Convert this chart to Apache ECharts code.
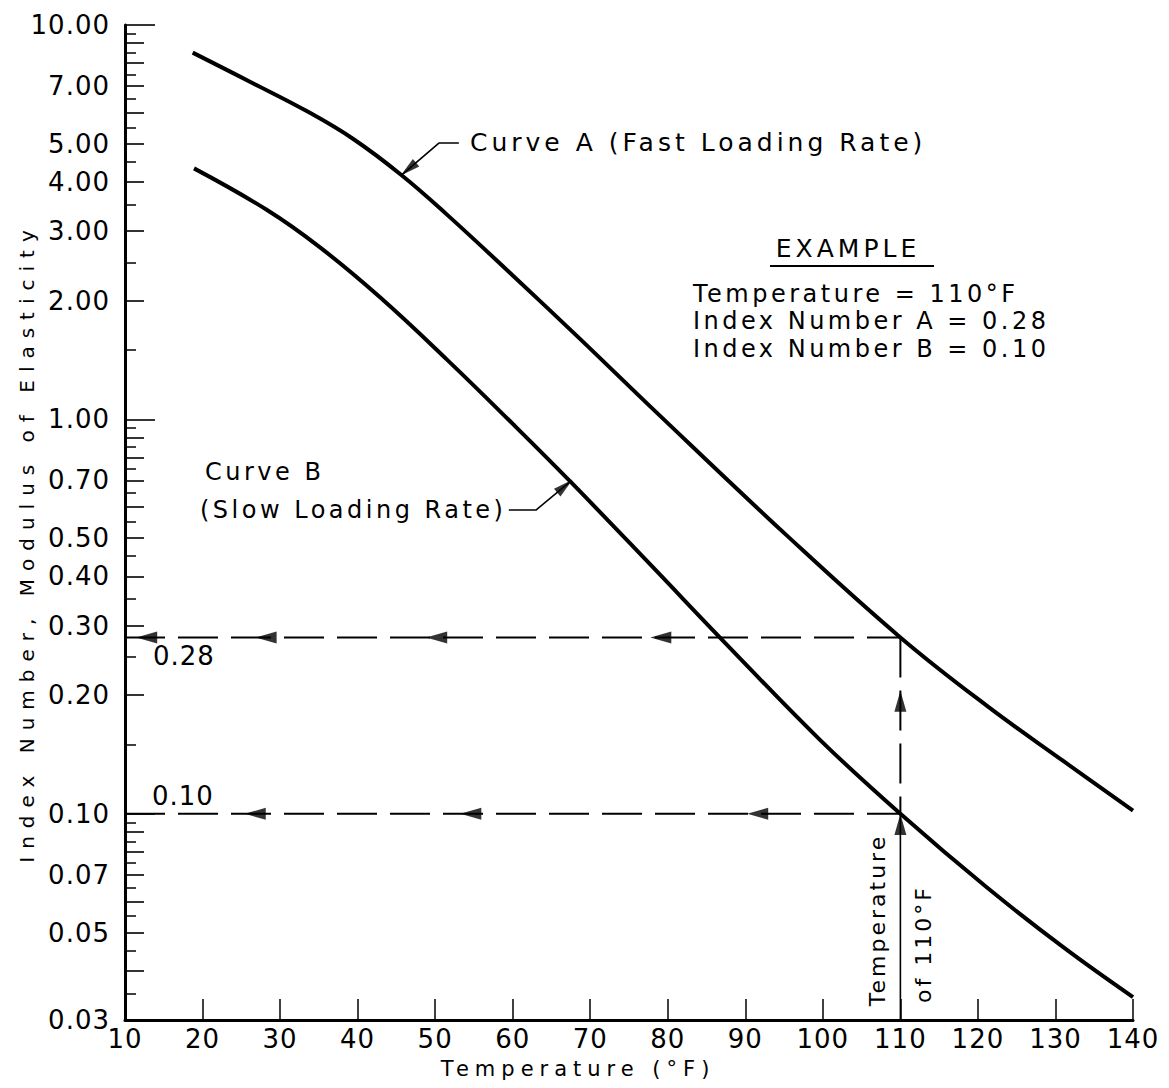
<!DOCTYPE html>
<html>
<head>
<meta charset="utf-8">
<script src="https://cdn.jsdelivr.net/npm/echarts@6/dist/echarts.min.js"></script>
<style>
html, body { margin: 0; padding: 0; background: #fff; }
#chart { width: 1169px; height: 1088px; }
#chart text[style*="26px"] { letter-spacing: 1px; }
#chart text[style*="25px"] { letter-spacing: 4px; }
#chart text[style*="24px"] { letter-spacing: 3.5px; }
#chart text[style*="22px"] { letter-spacing: 3px; }
#chart text[style*="21px"] { letter-spacing: 6px; }
#chart text[style*="20px"] { letter-spacing: 8px; }
</style>
</head>
<body>
<div id="chart"></div>
<script>
// ---- data ----
const tempA  = [18.73, 26.55, 33.43, 39.44, 45.68, 51.49, 60.08, 68.68, 78.57, 95.34, 110, 121.13, 131.0, 140];
const indexA = [8.51, 7.11, 6.05, 5.14, 4.16, 3.31, 2.31, 1.60, 1.04, 0.508, 0.28, 0.188, 0.1361, 0.1018];
const tempB  = [18.9, 28.27, 35.15, 42.89, 51.49, 60.08, 67.61, 78.17, 86.95, 99.63, 110, 121.13, 131.0, 140];
const indexB = [4.33, 3.40, 2.73, 2.04, 1.42, 0.971, 0.690, 0.420, 0.277, 0.154, 0.10, 0.0651, 0.0459, 0.0343];

const tempMin = 10, tempMax = 140, tempStep = 10;
const indexMin = 0.03, indexMax = 10;

const yLabelValues = [10, 7, 5, 4, 3, 2, 1, 0.7, 0.5, 0.4, 0.3, 0.2, 0.1, 0.07, 0.05, 0.03];
const yDecadeTicks = [10, 1, 0.1];
const yUnitTicks = [9, 8, 7, 6, 5, 4, 3, 2, 0.9, 0.8, 0.7, 0.6, 0.5, 0.4, 0.3, 0.2,
                    0.09, 0.08, 0.07, 0.06, 0.05, 0.04, 0.03];
const yHalfTicks = [9.5, 8.5, 7.5, 6.5, 5.5, 4.5, 3.5, 2.5, 1.5,
                    0.95, 0.85, 0.75, 0.65, 0.55, 0.45, 0.35, 0.25, 0.15,
                    0.095, 0.085, 0.075, 0.065, 0.055, 0.045, 0.035];

// worked example
const exampleTemp = 110;
const exampleIndexA = 0.28;
const exampleIndexB = 0.10;
const arrowsOnA = [12.8, 28.2, 50.2, 79.1];   // arrow centres (°F) on the 0.28 guide
const arrowsOnB = [26.8, 54.6, 91.6];         // arrow centres (°F) on the 0.10 guide
const arrowsUp  = [0.193, 0.094];             // arrow centres (index) on the 110 °F guide

// label leaders
const leaderA = [[53.06, 5.02], [50.48, 5.02], [45.66, 4.16]];
const leaderB = [[59.5, 0.589], [63.0, 0.589], [67.61, 0.700]];
const leaderArrowA = [46.55, 4.31];
const leaderArrowB = [66.73, 0.677];

// ---- chart ----
const FONT = 'DejaVu Sans';
const pairs = (xs, ys) => xs.map((x, i) => [x, ys[i]]);
const chart = echarts.init(document.getElementById('chart'), null, { renderer: 'svg', width: 1169, height: 1088 });

const logAxisBase = {
  type: 'log', logBase: 10, min: indexMin, max: indexMax, position: 'left',
  splitLine: { show: false }, minorTick: { show: false }, minorSplitLine: { show: false }
};

const guideStyle = { color: '#000', width: 2, type: [40, 13] };

const arrowData = []
  .concat(arrowsOnA.map(t => ({ value: [t, exampleIndexA], symbolRotate: 90 })))
  .concat(arrowsOnB.map(t => ({ value: [t, exampleIndexB], symbolRotate: 90 })))
  .concat(arrowsUp.map(v => ({ value: [exampleTemp, v], symbolRotate: 0 })));

const option = {
  animation: false,
  backgroundColor: '#fff',
  grid: { left: 125, right: 36, top: 25, bottom: 68, outerBoundsMode: 'none', containLabel: false },
  xAxis: {
    type: 'value', min: tempMin, max: tempMax, interval: tempStep,
    name: 'Temperature (°F)', nameLocation: 'middle', nameGap: 38, nameMoveOverlap: false,
    nameTextStyle: { fontFamily: FONT, fontSize: 21, color: '#000', padding: [0, 102, 0, 0] },
    axisLine: { onZero: false, lineStyle: { color: '#000', width: 3 } },
    axisTick: { inside: true, length: 21, lineStyle: { color: '#000', width: 1.5 } },
    axisLabel: { fontFamily: FONT, fontSize: 26, color: '#000', margin: 6 },
    splitLine: { show: false }
  },
  yAxis: [
    Object.assign({}, logAxisBase, {
      name: 'Index Number, Modulus of Elasticity', nameLocation: 'middle', nameRotate: 90, nameGap: 88,
      nameMoveOverlap: false,
      nameTextStyle: { fontFamily: FONT, fontSize: 20, color: '#000', padding: [0, 40, 0, 0] },
      axisLine: { show: true, lineStyle: { color: '#000', width: 3 } },
      axisTick: { show: true, inside: true, length: 19, customValues: yUnitTicks, lineStyle: { color: '#000', width: 1.6 } },
      axisLabel: { show: true, customValues: yLabelValues, formatter: v => Number(v).toFixed(2),
                   fontFamily: FONT, fontSize: 26, color: '#000', margin: 15 }
    }),
    Object.assign({}, logAxisBase, {
      axisLine: { show: false }, axisLabel: { show: false },
      axisTick: { show: true, inside: true, length: 30, customValues: yDecadeTicks, lineStyle: { color: '#000', width: 1.6 } }
    }),
    Object.assign({}, logAxisBase, {
      axisLine: { show: false }, axisLabel: { show: false },
      axisTick: { show: true, inside: true, length: 11, customValues: yHalfTicks, lineStyle: { color: '#000', width: 1.5 } }
    })
  ],
  series: [
    { name: 'Curve A (Fast Loading Rate)', type: 'line', data: pairs(tempA, indexA), smooth: 0.4,
      symbol: 'none', lineStyle: { color: '#000', width: 4 }, z: 5 },
    { name: 'Curve B (Slow Loading Rate)', type: 'line', data: pairs(tempB, indexB), smooth: 0.4,
      symbol: 'none', lineStyle: { color: '#000', width: 4 }, z: 5 },
    { name: 'Index A guide', type: 'line', data: [[tempMin, exampleIndexA], [exampleTemp, exampleIndexA]],
      symbol: 'none', lineStyle: guideStyle, z: 3 },
    { name: 'Index B guide', type: 'line', data: [[tempMin, exampleIndexB], [exampleTemp, exampleIndexB]],
      symbol: 'none', lineStyle: guideStyle, z: 3 },
    { name: 'Temperature guide', type: 'line', data: [[exampleTemp, exampleIndexA], [exampleTemp, exampleIndexB]],
      symbol: 'none', lineStyle: guideStyle, z: 3 },
    { name: 'Temperature guide lower', type: 'line', data: [[exampleTemp, exampleIndexB], [exampleTemp, indexMin]],
      symbol: 'none', lineStyle: { color: '#000', width: 1.6 }, z: 3 },
    { name: 'Leader A', type: 'line', data: leaderA, symbol: 'none', lineStyle: { color: '#000', width: 1.6 }, z: 3 },
    { name: 'Leader B', type: 'line', data: leaderB, symbol: 'none', lineStyle: { color: '#000', width: 1.6 }, z: 3 },
    { name: 'Arrows', type: 'scatter', symbol: 'triangle', symbolSize: [12, 21],
      itemStyle: { color: '#000' }, z: 6,
      data: arrowData.concat([
        { value: leaderArrowA, symbolRotate: 130, symbolSize: [10, 20] },
        { value: leaderArrowB, symbolRotate: -50, symbolSize: [10, 20] }
      ]) }
  ],
  graphic: [
    { type: 'text', x: 470, y: 142.5, style: { text: 'Curve A (Fast Loading Rate)', font: '25px DejaVu Sans', fill: '#000', align: 'left', verticalAlign: 'middle' } },
    { type: 'text', x: 205, y: 472, style: { text: 'Curve B', font: '24px DejaVu Sans', fill: '#000', align: 'left', verticalAlign: 'middle' } },
    { type: 'text', x: 200, y: 510, style: { text: '(Slow Loading Rate)', font: '24px DejaVu Sans', fill: '#000', align: 'left', verticalAlign: 'middle' } },
    { type: 'text', x: 848, y: 248, style: { text: 'EXAMPLE', font: '25px DejaVu Sans', fill: '#000', align: 'center', verticalAlign: 'middle' } },
    { type: 'line', shape: { x1: 770, y1: 266, x2: 934, y2: 266 }, style: { stroke: '#000', lineWidth: 2 } },
    { type: 'text', x: 693, y: 293.5, style: { text: 'Temperature = 110°F', font: '24px DejaVu Sans', fill: '#000', align: 'left', verticalAlign: 'middle' } },
    { type: 'text', x: 693, y: 321, style: { text: 'Index Number A = 0.28', font: '24px DejaVu Sans', fill: '#000', align: 'left', verticalAlign: 'middle' } },
    { type: 'text', x: 693, y: 349, style: { text: 'Index Number B = 0.10', font: '24px DejaVu Sans', fill: '#000', align: 'left', verticalAlign: 'middle' } },
    { type: 'text', x: 153, y: 656, style: { text: '0.28', font: '26px DejaVu Sans', fill: '#000', align: 'left', verticalAlign: 'middle' } },
    { type: 'text', x: 152, y: 796, style: { text: '0.10', font: '26px DejaVu Sans', fill: '#000', align: 'left', verticalAlign: 'middle' } },
    { type: 'text', x: 877, y: 920, rotation: Math.PI / 2, style: { text: 'Temperature', font: '22px DejaVu Sans', fill: '#000', align: 'center', verticalAlign: 'middle' } },
    { type: 'text', x: 923, y: 944, rotation: Math.PI / 2, style: { text: 'of 110°F', font: '22px DejaVu Sans', fill: '#000', align: 'center', verticalAlign: 'middle' } }
  ]
};
chart.setOption(option);
</script>
</body>
</html>
